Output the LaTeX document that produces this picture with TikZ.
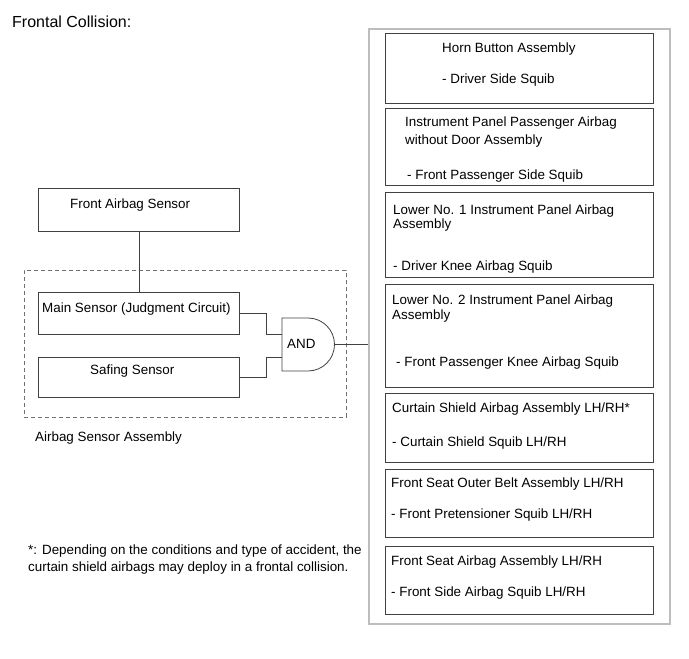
\documentclass[tikz,border=0pt]{standalone}
\usepackage{fontspec}
\setmainfont{Liberation Sans}
\definecolor{ln}{HTML}{404040}
\definecolor{outergray}{HTML}{BDBDBD}
\definecolor{dashgray}{HTML}{707070}
\begin{document}
\begin{tikzpicture}[x=1pt,y=-1pt,
  box/.style={draw=ln, line width=0.8pt, inner sep=0pt, anchor=north west},
  lbl/.style={anchor=base west, inner sep=0pt, font=\fontsize{13.4}{16}\selectfont},
  wire/.style={draw=ln, line width=0.8pt}]
\useasboundingbox (0,0) rectangle (689,659);

% title
\node[lbl, font=\fontsize{16}{19}\selectfont] (title) at (12,27) {Frontal Collision:};

% left side
\node[box, minimum width=201pt, minimum height=43pt] (fas) at (38,188) {};
\node[lbl] (fast) at (70,208) {Front Airbag Sensor};

\node[box, draw=dashgray, dash pattern=on 4pt off 3pt, minimum width=322pt, minimum height=147pt] (asa) at (24,270) {};
\node[lbl] (asat) at (35,441) {Airbag Sensor Assembly};

\node[box, minimum width=201pt, minimum height=42pt] (main) at (38,292) {};
\node[lbl] (maint) at (42,312) {Main Sensor (Judgment Circuit)};

\node[box, minimum width=201pt, minimum height=40pt] (saf) at (38,357) {};
\node[lbl] (saft) at (90,374) {Safing Sensor};

% AND gate
\draw[ln, line width=0.8pt] (282,318) -- (308,318) arc[start angle=-90, end angle=90, radius=26.5] -- (282,371) -- cycle;
\coordinate (andin1) at (282,334);
\coordinate (andin2) at (282,357);
\coordinate (andout) at (334.5,344.5);
\node[lbl] (andt) at (287,348) {AND};

% right outer box
\node[box, draw=outergray, line width=1.5pt, minimum width=301pt, minimum height=595pt] (outer) at (368,28) {};

% right boxes
\node[box, minimum width=268pt, minimum height=70pt] (b1) at (385,33) {};
\node[lbl] (b1a) at (442,52) {Horn Button Assembly};
\node[lbl] (b1b) at (442,83) {- Driver Side Squib};

\node[box, minimum width=268pt, minimum height=77pt] (b2) at (385,108) {};
\node[lbl] (b2a) at (405,126) {Instrument Panel Passenger Airbag};
\node[lbl] (b2b) at (405,144) {without Door Assembly};
\node[lbl] (b2c) at (407,179) {- Front Passenger Side Squib};

\node[box, minimum width=268pt, minimum height=85pt] (b3) at (385,192) {};
\node[lbl] (b3a) at (393,214) {Lower No. 1 Instrument Panel Airbag};
\node[lbl] (b3b) at (393,228) {Assembly};
\node[lbl] (b3c) at (393,270) {- Driver Knee Airbag Squib};

\node[box, minimum width=268pt, minimum height=103pt] (b4) at (385,284) {};
\node[lbl] (b4a) at (392,304) {Lower No. 2 Instrument Panel Airbag};
\node[lbl] (b4b) at (392,319) {Assembly};
\node[lbl] (b4c) at (396,366) {- Front Passenger Knee Airbag Squib};

\node[box, minimum width=268pt, minimum height=69pt] (b5) at (385,393) {};
\node[lbl] (b5a) at (392,412) {Curtain Shield Airbag Assembly LH/RH*};
\node[lbl] (b5b) at (392,446) {- Curtain Shield Squib LH/RH};

\node[box, minimum width=268pt, minimum height=68pt] (b6) at (385,469) {};
\node[lbl] (b6a) at (391,487) {Front Seat Outer Belt Assembly LH/RH};
\node[lbl] (b6b) at (391,518) {- Front Pretensioner Squib LH/RH};

\node[box, minimum width=268pt, minimum height=68pt] (b7) at (385,546) {};
\node[lbl] (b7a) at (391,565) {Front Seat Airbag Assembly LH/RH};
\node[lbl] (b7b) at (391,596) {- Front Side Airbag Squib LH/RH};

% footnote
\node[lbl] (fn1) at (28,554) {*: Depending on the conditions and type of accident, the};
\node[lbl] (fn2) at (28,571) {curtain shield airbags may deploy in a frontal collision.};

% connectors
\draw[wire] (fas.south) -- (main.north);
\draw[wire] (main.east) -- ++(27,0) |- (andin1);
\draw[wire] (saf.east) -- ++(27,0) |- (andin2);
\draw[wire] (andout) -- (outer.west |- andout);
\end{tikzpicture}
\end{document}
